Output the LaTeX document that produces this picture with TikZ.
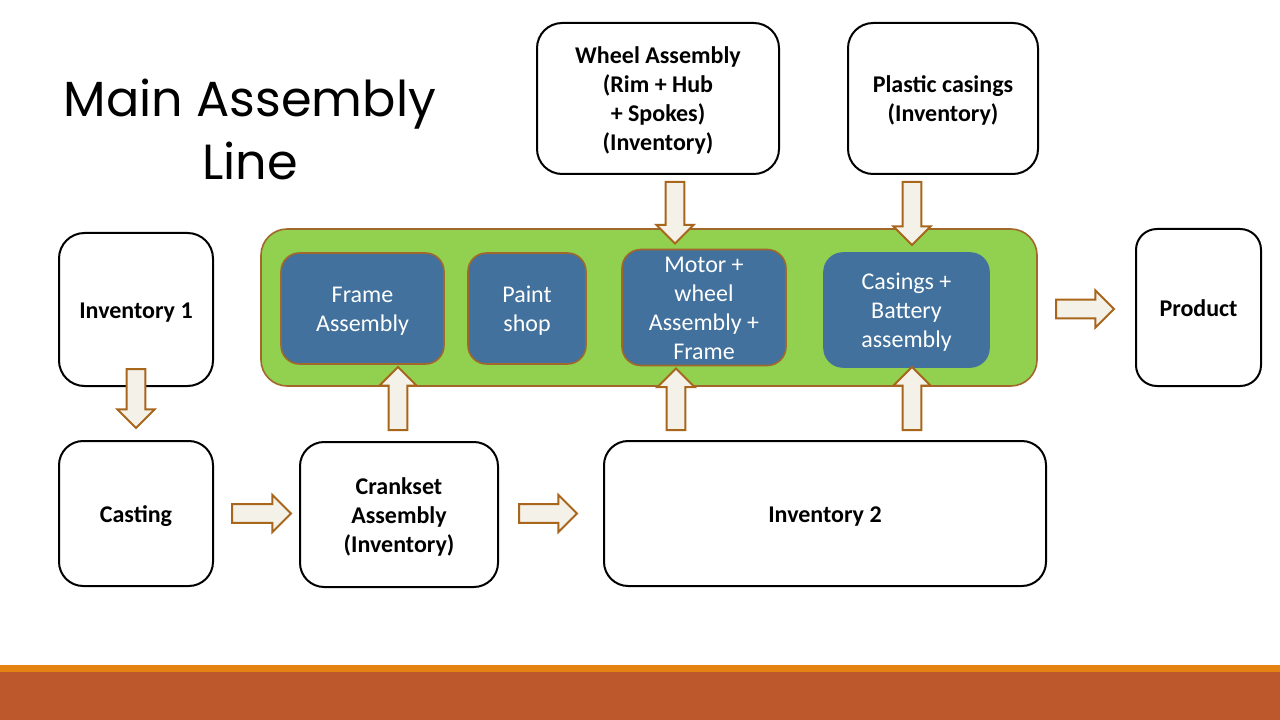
\documentclass[tikz,border=0pt]{standalone}
\usepackage{fontspec}
\setmainfont{Carlito}
\newfontfamily\titlefont{Poppins}
\usetikzlibrary{calc}
\definecolor{greenbg}{HTML}{92D050}
\definecolor{bluebox}{HTML}{41719C}
\definecolor{brownline}{HTML}{A2672A}
\definecolor{arrowfill}{HTML}{F3F1E8}
\definecolor{arrowline}{HTML}{A8661C}
\definecolor{bandorange}{HTML}{E48312}
\definecolor{bandrust}{HTML}{BD582C}
\newcommand\asw{7.1pt}
\newcommand\ahw{13.9pt}
\newcommand\ahl{13.9pt}
\newcommand\tx[1]{\raisebox{-2.3pt}[\height][\depth]{\begin{tabular}{@{}c@{}}#1\end{tabular}}}
\newcommand\barrow[2]{%
  \path ($(#2)!\ahl!(#1)$) coordinate (hb);
  \draw[blockarrow] ($(#1)!\asw!90:(#2)$) -- ($(hb)!\asw!90:(#2)$) -- ($(hb)!\ahw!90:(#2)$) -- (#2) -- ($(hb)!\ahw!-90:(#2)$) -- ($(hb)!\asw!-90:(#2)$) -- ($(#1)!\asw!-90:(#2)$) -- cycle;
}
\begin{document}
\begin{tikzpicture}[x=0.75pt,y=-0.75pt,
  sz/.style 2 args={minimum width=#1*0.75pt, minimum height=#2*0.75pt},
  rr/.style={rounded corners=#1*0.125pt},
  wbox/.style={draw=black, line width=1.5pt, fill=white, inner sep=0pt, outer sep=0pt,
    font=\fontsize{18}{21.75}\selectfont\bfseries},
  bbox/.style={draw=brownline, line width=1.2pt, fill=bluebox, text=white, inner sep=0pt, outer sep=0pt,
    font=\fontsize{18}{21.75}\selectfont},
  gbox/.style={draw=brownline, line width=1.2pt, fill=greenbg, inner sep=0pt, outer sep=0pt},
  blockarrow/.style={draw=arrowline, fill=arrowfill, line width=1.5pt, line join=miter},
  titlestyle/.style={align=center, inner sep=0pt, font=\titlefont\fontsize{37}{47.25}\selectfont}
]
\useasboundingbox (0,0) rectangle (1280,720);
\fill[white] (0,0) rectangle (1280,720);
% bottom bands
\fill[bandorange] (0,665) rectangle (1280,672);
\fill[bandrust] (0,672) rectangle (1280,720);
% title
\node[titlestyle] (title) at (250,129) {Main Assembly\\Line};
% main line container
\node[gbox, sz={776}{157}, rr=157] (green) at (649,307.5) {};
\node[bbox, sz={163}{111}, rr=111] (frame) at (362.5,308.5) {\tx{Frame\\Assembly}};
\node[bbox, sz={118}{111}, rr=111] (paint) at (527,308.5) {\tx{Paint\\shop}};
\node[bbox, sz={164}{113}, rr=113] (motor) at (704,307.5) {\tx{Motor +\\wheel\\Assembly +\\Frame}};
\node[bbox, draw=bluebox, sz={165}{114}, rr=114] (casings) at (906.5,310) {\tx{Casings +\\Battery\\assembly}};
% white boxes
\node[wbox, sz={242}{151}, rr=151] (wheel) at (658,98.5) {\tx{Wheel Assembly\\(Rim + Hub\\+ Spokes)\\(Inventory)}};
\node[wbox, sz={190}{151}, rr=151] (plastic) at (943,98.5) {\tx{Plastic casings\\(Inventory)}};
\node[wbox, sz={154}{153}, rr=153] (inv1) at (136,309.5) {\tx{Inventory 1}};
\node[wbox, sz={125}{157}, rr=125] (product) at (1198.5,307.5) {\tx{Product}};
\node[wbox, sz={154}{145}, rr=145] (casting) at (136,513.5) {\tx{Casting}};
\node[wbox, sz={198}{145}, rr=145] (crank) at (399,514.5) {\tx{Crankset\\Assembly\\(Inventory)}};
\node[wbox, sz={442}{145}, rr=145] (inv2) at (825,513.5) {\tx{Inventory 2}};
% arrow end points
\coordinate (a1s) at ($(inv1.south)+(0,-17)$);
\coordinate (a1e) at ($(casting.north)+(0,-13)$);
\coordinate (a2s) at ($(casting.east)+(19,0)$);
\coordinate (a2e) at ($(crank.west)+(-9,-1)$);
\coordinate (a3s) at ($(crank.east)+(21,-1)$);
\coordinate (a3e) at ($(inv2.west)+(-27,0)$);
\coordinate (a4s) at ($(green.east)+(19,1.5)$);
\coordinate (a4e) at ($(product.west)+(-22,1.5)$);
\coordinate (a5s) at ($(crank.north)+(-1,-12)$);
\coordinate (a5e) at ($(crank.north |- frame.south)+(-1,3)$);
\coordinate (a6s) at ($(inv2.north west)+(72,-11)$);
\coordinate (a6e) at ($(inv2.north west |- motor.south)+(72,3)$);
\coordinate (a7s) at ($(inv2.north west)+(308,-11)$);
\coordinate (a7e) at ($(inv2.north west |- casings.south)+(308,0)$);
\coordinate (a8s) at ($(wheel.south)+(17,8)$);
\coordinate (a8e) at ($(motor.north)+(-29,-6)$);
\coordinate (a9s) at ($(plastic.south)+(-31,8)$);
\coordinate (a9e) at ($(casings.north)+(5.5,-8)$);
% block arrows
\barrow{a1s}{a1e}
\barrow{a2s}{a2e}
\barrow{a3s}{a3e}
\barrow{a4s}{a4e}
\barrow{a5s}{a5e}
\barrow{a6s}{a6e}
\barrow{a7s}{a7e}
\barrow{a8s}{a8e}
\barrow{a9s}{a9e}
\end{tikzpicture}
\end{document}
